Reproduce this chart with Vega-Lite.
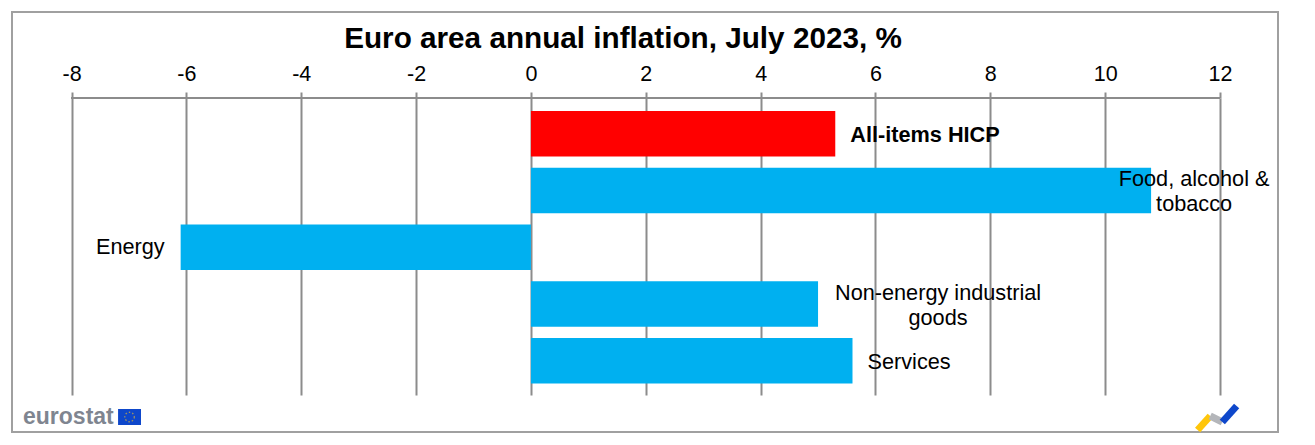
{
"$schema":"https://vega.github.io/schema/vega-lite/v6.json",
"width":1266,"height":420,
"autosize":{"type":"none"},
"padding":{"left":12,"top":12,"right":37,"bottom":13},
"background":"white",
"config":{"view":{"stroke":"#a0a0a0","strokeWidth":2},"font":"Liberation Sans"},
"title":{"text":"Euro area annual inflation, July 2023, %","font":"Liberation Sans","fontSize":29.7,"fontWeight":"bold","color":"#000000","anchor":"middle","dx":-22,"offset":-66,"baseline":"alphabetic"},
"data":{"values":[
{"item":"All-items HICP","rate":5.3,"group":"headline"},
{"item":"Food, alcohol & tobacco","rate":10.8,"group":"component"},
{"item":"Energy","rate":-6.1,"group":"component"},
{"item":"Non-energy industrial goods","rate":5.0,"group":"component"},
{"item":"Services","rate":5.6,"group":"component"}
]},
"resolve":{"scale":{"y":"independent"},"axis":{"x":"independent"}},
"layer":[
{"data":{"values":[{"tick":-8},{"tick":-6},{"tick":-4},{"tick":-2},{"tick":0},{"tick":2},{"tick":4},{"tick":6},{"tick":8},{"tick":10},{"tick":12}]},
"mark":{"type":"point","opacity":0},
"encoding":{"x":{"field":"tick","type":"quantitative","scale":{"domain":[-9.037,13.01],"nice":false,"zero":false},
"axis":{"orient":"top","offset":-86,"values":[-8,-6,-4,-2,0,2,4,6,8,10,12],"grid":false,"title":null,"domain":false,"tickSize":6,"tickWidth":2,"tickColor":"#8c8c8c","labelFontSize":21.5,"labelColor":"#000000","labelPadding":7,"labelFont":"Liberation Sans","labelExpr":"'' + datum.value"}}}},
{"data":{"values":[{"tick":-8},{"tick":-6},{"tick":-4},{"tick":-2},{"tick":0},{"tick":2},{"tick":4},{"tick":6},{"tick":8},{"tick":10},{"tick":12}]},
"mark":{"type":"point","opacity":0},
"encoding":{"x":{"field":"tick","type":"quantitative",
"axis":{"orient":"top","offset":-86,"values":[-8,-6,-4,-2,0,2,4,6,8,10,12],"grid":false,"title":null,"domain":false,"labels":false,"tickSize":-297,"tickWidth":2,"tickColor":"#8c8c8c"}}}},
{"mark":{"type":"rule","color":"#8c8c8c","strokeWidth":2},
"encoding":{"x":{"datum":-8,"type":"quantitative","axis":null},"x2":{"datum":12},"y":{"datum":86,"type":"quantitative","axis":null,"scale":{"domain":[0,420],"reverse":true,"nice":false,"zero":false}}}},
{"layer":[
{"mark":{"type":"bar","tooltip":false},
"encoding":{
"x":{"field":"rate","type":"quantitative","axis":null},
"x2":{"datum":0},
"y":{"field":"item","type":"nominal","sort":null,"axis":null,"scale":{"domain":[" ","All-items HICP","Food, alcohol & tobacco","Energy","Non-energy industrial goods","Services"],"paddingInner":0.2,"paddingOuter":0.8,"align":0.465}},
"color":{"field":"group","type":"nominal","legend":null,"scale":{"domain":["headline","component"],"range":["#ff0000","#00b0f0"]}}
}},
{"transform":[{"filter":"datum.item==='All-items HICP'"}],
"mark":{"type":"text","align":"left","dx":15,"dy":1,"fontSize":21.7,"fontWeight":"bold","color":"#000000"},
"encoding":{"x":{"field":"rate","type":"quantitative","axis":null},"y":{"field":"item","type":"nominal","sort":null,"axis":null},"text":{"field":"item"}}},
{"transform":[{"filter":"datum.item==='Food, alcohol & tobacco'"}],
"mark":{"type":"text","align":"center","dx":43,"dy":-11,"fontSize":21.7,"color":"#000000","lineBreak":"|","lineHeight":25},
"encoding":{"x":{"field":"rate","type":"quantitative","axis":null},"y":{"field":"item","type":"nominal","sort":null,"axis":null},"text":{"value":"Food,  alcohol &|tobacco"}}},
{"transform":[{"filter":"datum.item==='Energy'"}],
"mark":{"type":"text","align":"right","dx":-16,"fontSize":21.7,"color":"#000000"},
"encoding":{"x":{"field":"rate","type":"quantitative","axis":null},"y":{"field":"item","type":"nominal","sort":null,"axis":null},"text":{"field":"item"}}},
{"transform":[{"filter":"datum.item==='Non-energy industrial goods'"}],
"mark":{"type":"text","align":"center","dx":120,"dy":-10.5,"fontSize":21.7,"color":"#000000","lineBreak":"|","lineHeight":25},
"encoding":{"x":{"field":"rate","type":"quantitative","axis":null},"y":{"field":"item","type":"nominal","sort":null,"axis":null},"text":{"value":"Non-energy  industrial|goods"}}},
{"transform":[{"filter":"datum.item==='Services'"}],
"mark":{"type":"text","align":"left","dx":15,"dy":1,"fontSize":21.7,"color":"#000000"},
"encoding":{"x":{"field":"rate","type":"quantitative","axis":null},"y":{"field":"item","type":"nominal","sort":null,"axis":null},"text":{"field":"item"}}}
]},
{"data":{"values":[{"brand":"eurostat"}]},
"layer":[
{"mark":{"type":"text","align":"left","baseline":"alphabetic","fontSize":23,"fontWeight":"bold","color":"#7f8590"},
"encoding":{"x":{"datum":-8.845,"type":"quantitative","axis":null},"y":{"datum":412,"type":"quantitative","axis":null,"scale":{"domain":[0,420],"reverse":true,"nice":false,"zero":false}},"text":{"field":"brand"}}},
{"mark":{"type":"rect","color":"#0e47cb"},
"encoding":{"x":{"datum":-7.19,"type":"quantitative","axis":null},"x2":{"datum":-6.79},"y":{"datum":397,"type":"quantitative","axis":null},"y2":{"datum":413}}},
{"mark":{"type":"point","filled":false,"color":"#d8b23a","size":90,"strokeWidth":1.3,"strokeDash":[1.5,2]},
"encoding":{"x":{"datum":-6.99,"type":"quantitative","axis":null},"y":{"datum":405,"type":"quantitative","axis":null}}},
{"mark":{"type":"rule","color":"#ffc60a","strokeWidth":7},
"encoding":{"x":{"datum":11.61,"type":"quantitative","axis":null},"x2":{"datum":11.83},"y":{"datum":418,"type":"quantitative","axis":null},"y2":{"datum":404}}},
{"mark":{"type":"rule","color":"#b4b6ba","strokeWidth":7},
"encoding":{"x":{"datum":11.83,"type":"quantitative","axis":null},"x2":{"datum":12.04},"y":{"datum":404,"type":"quantitative","axis":null},"y2":{"datum":410}}},
{"mark":{"type":"rule","color":"#0e47cb","strokeWidth":7},
"encoding":{"x":{"datum":12.04,"type":"quantitative","axis":null},"x2":{"datum":12.29},"y":{"datum":410,"type":"quantitative","axis":null},"y2":{"datum":394}}}
]}
]
}
